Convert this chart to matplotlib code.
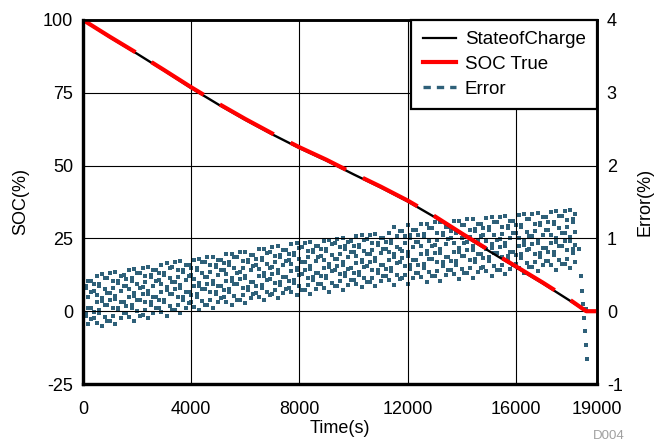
"""
SOC推定とその誤差の比較
"""

import numpy as np
import matplotlib
matplotlib.use("Agg")
import matplotlib.pyplot as plt
from matplotlib.lines import Line2D

plt.rcParams['font.family'] = ['Liberation Sans', 'DejaVu Sans']
plt.rcParams['axes.unicode_minus'] = False

####################################
# データ
####################################
soc_time = [0, 1000, 2000, 3000, 4000, 5000, 6000, 7000, 8000, 9000, 10000,
            11000, 12000, 13000, 14000, 15000, 16000, 17000, 18000, 18600]
soc_est = [100, 94.0, 88.4, 82.6, 76.6, 71.0, 65.7, 60.7, 56.0, 51.7, 47.0,
           42.5, 37.7, 32.3, 26.4, 20.7, 15.1, 9.5, 3.6, 0]
soc_true_time = soc_time + [19000]
soc_true = [100, 94.2, 88.6, 82.8, 76.9, 71.3, 66.0, 61.0, 56.3, 52.0, 47.3,
            42.8, 38.0, 32.6, 26.7, 21.0, 15.4, 9.8, 3.9, 0, 0]

# 誤差: 200秒ごとの列 (t = 0, 200, ...), 各列に4点
err_step = 200
err_cols = [
    [-0.25, 0.09, 0.13, 0.46], [-0.18, 0.04, 0.20, 0.41], [-0.10, -0.01, 0.28, 0.37],
    [-0.03, 0.01, 0.35, 0.38], [-0.08, 0.08, 0.30, 0.45], [-0.13, 0.15, 0.25, 0.52],
    [-0.18, 0.17, 0.21, 0.54], [-0.10, 0.12, 0.28, 0.49], [-0.03, 0.07, 0.35, 0.44],
    [0.04, 0.08, 0.42, 0.45], [0.00, 0.16, 0.38, 0.53], [-0.05, 0.23, 0.33, 0.60],
    [-0.10, 0.24, 0.28, 0.61], [-0.03, 0.19, 0.35, 0.56], [0.05, 0.15, 0.43, 0.52],
    [0.12, 0.16, 0.50, 0.53], [0.07, 0.23, 0.45, 0.60], [0.02, 0.30, 0.40, 0.67],
    [-0.03, 0.32, 0.36, 0.69], [0.05, 0.27, 0.43, 0.64], [0.12, 0.22, 0.50, 0.59],
    [0.19, 0.23, 0.57, 0.60], [0.14, 0.30, 0.52, 0.67], [0.09, 0.37, 0.47, 0.74],
    [0.04, 0.38, 0.42, 0.75], [0.12, 0.34, 0.50, 0.71], [0.19, 0.29, 0.57, 0.66],
    [0.26, 0.30, 0.64, 0.67], [0.21, 0.37, 0.59, 0.74], [0.16, 0.44, 0.54, 0.81],
    [0.11, 0.45, 0.49, 0.82], [0.18, 0.40, 0.56, 0.77], [0.25, 0.35, 0.63, 0.72],
    [0.32, 0.36, 0.70, 0.73], [0.27, 0.43, 0.65, 0.80], [0.23, 0.51, 0.61, 0.88],
    [0.18, 0.52, 0.56, 0.89], [0.25, 0.47, 0.63, 0.84], [0.32, 0.42, 0.70, 0.79],
    [0.39, 0.43, 0.77, 0.80], [0.34, 0.50, 0.72, 0.87], [0.29, 0.57, 0.67, 0.94],
    [0.24, 0.58, 0.62, 0.95], [0.31, 0.53, 0.69, 0.90], [0.38, 0.48, 0.76, 0.85],
    [0.45, 0.49, 0.83, 0.86], [0.39, 0.55, 0.77, 0.92], [0.34, 0.62, 0.72, 0.99],
    [0.29, 0.63, 0.67, 1.00], [0.36, 0.58, 0.74, 0.95], [0.43, 0.53, 0.81, 0.90],
    [0.50, 0.54, 0.88, 0.91], [0.45, 0.61, 0.83, 0.98], [0.40, 0.68, 0.78, 1.05],
    [0.35, 0.69, 0.73, 1.06], [0.42, 0.64, 0.80, 1.01], [0.48, 0.58, 0.86, 0.95],
    [0.55, 0.59, 0.93, 0.96], [0.50, 0.66, 0.88, 1.03], [0.45, 0.73, 0.83, 1.10],
    [0.38, 0.76, 0.81, 1.18], [0.46, 0.70, 0.88, 1.12], [0.52, 0.64, 0.95, 1.05],
    [0.60, 0.65, 1.03, 1.06], [0.54, 0.72, 0.97, 1.14], [0.49, 0.80, 0.91, 1.22],
    [0.42, 0.80, 0.85, 1.22], [0.50, 0.74, 0.92, 1.16], [0.57, 0.69, 1.00, 1.10],
    [0.64, 0.69, 1.07, 1.10], [0.58, 0.76, 1.01, 1.18], [0.53, 0.84, 0.95, 1.26],
    [0.46, 0.84, 0.89, 1.26], [0.54, 0.78, 0.96, 1.20], [0.61, 0.73, 1.04, 1.14],
    [0.69, 0.74, 1.12, 1.15], [0.62, 0.80, 1.05, 1.22], [0.57, 0.88, 0.99, 1.30],
    [0.51, 0.89, 0.94, 1.31], [0.58, 0.82, 1.00, 1.24], [0.65, 0.77, 1.08, 1.18],
    [0.73, 0.78, 1.16, 1.19], [0.66, 0.84, 1.09, 1.26], [0.61, 0.92, 1.03, 1.34],
    [0.55, 0.93, 0.98, 1.35], [0.63, 0.87, 1.05, 1.29], [0.69, 0.81, 1.12, 1.22],
    [0.77, 0.82, 1.20, 1.23], [0.71, 0.89, 1.14, 1.31], [0.65, 0.96, 1.07, 1.38],
    [0.59, 0.97, 1.02, 1.39], [0.67, 0.91, 1.09, 1.33],
]
# 間の列 (t = 100, 300, ...)
err_cols_mid = [
    [-0.06, -0.02, 0.32, 0.35], [-0.11, 0.05, 0.27, 0.42], [-0.16, 0.12, 0.22, 0.49],
    [-0.21, 0.14, 0.18, 0.51], [-0.13, 0.09, 0.25, 0.46], [-0.06, 0.04, 0.32, 0.41],
    [0.01, 0.05, 0.39, 0.42], [-0.03, 0.13, 0.35, 0.50], [-0.08, 0.20, 0.30, 0.57],
    [-0.13, 0.21, 0.25, 0.58], [-0.06, 0.16, 0.32, 0.53], [0.02, 0.12, 0.40, 0.49],
    [0.09, 0.13, 0.47, 0.50], [0.04, 0.20, 0.42, 0.57], [-0.01, 0.27, 0.37, 0.64],
    [-0.06, 0.29, 0.33, 0.66], [0.02, 0.24, 0.40, 0.61], [0.09, 0.19, 0.47, 0.56],
    [0.16, 0.20, 0.54, 0.57], [0.11, 0.27, 0.49, 0.64], [0.06, 0.34, 0.44, 0.71],
    [0.01, 0.35, 0.39, 0.72], [0.09, 0.31, 0.47, 0.68], [0.16, 0.26, 0.54, 0.63],
    [0.23, 0.27, 0.61, 0.64], [0.18, 0.34, 0.56, 0.71], [0.13, 0.41, 0.51, 0.78],
    [0.08, 0.42, 0.46, 0.79], [0.15, 0.37, 0.53, 0.74], [0.22, 0.32, 0.60, 0.69],
    [0.29, 0.33, 0.67, 0.70], [0.24, 0.40, 0.62, 0.77], [0.20, 0.48, 0.58, 0.85],
    [0.15, 0.49, 0.53, 0.86], [0.22, 0.44, 0.60, 0.81], [0.29, 0.39, 0.67, 0.76],
    [0.36, 0.40, 0.74, 0.77], [0.31, 0.47, 0.69, 0.84], [0.27, 0.55, 0.65, 0.92],
    [0.22, 0.56, 0.60, 0.93], [0.29, 0.51, 0.67, 0.88], [0.36, 0.46, 0.74, 0.83],
    [0.43, 0.47, 0.81, 0.84], [0.37, 0.53, 0.75, 0.90], [0.32, 0.60, 0.70, 0.97],
    [0.27, 0.61, 0.65, 0.98], [0.34, 0.56, 0.72, 0.93], [0.41, 0.51, 0.79, 0.88],
    [0.48, 0.52, 0.86, 0.89], [0.43, 0.59, 0.81, 0.96], [0.38, 0.66, 0.76, 1.03],
    [0.33, 0.67, 0.71, 1.04], [0.40, 0.62, 0.78, 0.99], [0.46, 0.56, 0.84, 0.93],
    [0.53, 0.57, 0.91, 0.94], [0.48, 0.64, 0.86, 1.01], [0.43, 0.71, 0.81, 1.08],
    [0.36, 0.74, 0.79, 1.16], [0.44, 0.68, 0.86, 1.10], [0.50, 0.62, 0.93, 1.03],
    [0.58, 0.63, 1.01, 1.04], [0.52, 0.70, 0.95, 1.12], [0.47, 0.78, 0.89, 1.20],
    [0.40, 0.78, 0.83, 1.20], [0.48, 0.72, 0.90, 1.14], [0.55, 0.67, 0.98, 1.08],
    [0.62, 0.67, 1.05, 1.08], [0.56, 0.74, 0.99, 1.16], [0.51, 0.82, 0.93, 1.24],
    [0.44, 0.82, 0.87, 1.24], [0.52, 0.76, 0.94, 1.18], [0.59, 0.71, 1.02, 1.12],
    [0.67, 0.72, 1.10, 1.13], [0.60, 0.78, 1.03, 1.20], [0.55, 0.86, 0.97, 1.28],
    [0.49, 0.87, 0.92, 1.29], [0.56, 0.80, 0.98, 1.22], [0.63, 0.75, 1.06, 1.16],
    [0.71, 0.76, 1.14, 1.17], [0.64, 0.82, 1.07, 1.24], [0.59, 0.90, 1.01, 1.32],
    [0.53, 0.91, 0.96, 1.33], [0.61, 0.85, 1.03, 1.27], [0.67, 0.79, 1.10, 1.20],
    [0.75, 0.80, 1.18, 1.21], [0.69, 0.87, 1.12, 1.29], [0.63, 0.94, 1.05, 1.36],
    [0.57, 0.95, 1.00, 1.37], [0.65, 0.89, 1.07, 1.31], [0.72, 0.84, 1.15, 1.25],
    [0.80, 0.85, 1.23, 1.26],
]
# 最後の急降下部分
err_tail_time = [18350, 18400, 18450, 18480, 18520, 18560, 18600, 18620, 18600]
err_tail = [0.85, 0.49, 0.28, 0.10, -0.09, -0.27, -0.47, -0.66, 0.03]

err_t = []
err_v = []
for i, col in enumerate(err_cols):
    for v in col:
        err_t.append(i * err_step)
        err_v.append(v)
for i, col in enumerate(err_cols_mid):
    for v in col:
        err_t.append(i * err_step + err_step // 2)
        err_v.append(v)
err_t += err_tail_time
err_v += err_tail

x_ticks = [0, 4000, 8000, 12000, 16000, 19000]
soc_ticks = [-25, 0, 25, 50, 75, 100]
err_ticks = [-1, 0, 1, 2, 3, 4]

err_color = '#2e6079'

####################################
# 描画
####################################
fig = plt.figure(figsize=(6.55, 4.44), dpi=100)
ax = fig.add_axes([0.1267, 0.1351, 0.7848, 0.8199])
ax2 = ax.twinx()

ax2.plot(err_t, err_v, ls='none', marker='s', ms=2.9, mew=0, color=err_color)
ax.plot(soc_time, soc_est, color='black', lw=1.7)
ax.plot(soc_true_time, soc_true, color='red', lw=3.0, dashes=(14.8, 4.5))

# SOC軸を手前に
ax.set_zorder(ax2.get_zorder() + 1)
ax.patch.set_visible(False)

ax.set_xlim(0, 19000)
ax.set_ylim(-25, 100)
ax2.set_ylim(-1, 4)
ax.set_xticks(x_ticks)
ax.set_yticks(soc_ticks)
ax2.set_yticks(err_ticks)
ax.grid(True, color='black', lw=0.8)

ax.tick_params(axis='x', length=0, labelsize=13, pad=12)
ax.tick_params(axis='y', length=0, labelsize=13, pad=7)
ax2.tick_params(axis='y', length=0, labelsize=13, pad=7)
for a in (ax, ax2):
    a.spines['left'].set_linewidth(2.3)
    a.spines['bottom'].set_linewidth(2.3)
    a.spines['top'].set_linewidth(1.8)
    a.spines['right'].set_linewidth(1.8)

ax.set_xlabel('Time(s)', fontsize=13, labelpad=2)
ax.set_ylabel('SOC(%)', fontsize=13, va='center')
ax.yaxis.set_label_coords(-0.122, 0.5)
ax2.set_ylabel('Error(%)', fontsize=13, va='center')
ax2.yaxis.set_label_coords(1.094, 0.5)

handles = [
    Line2D([], [], color='black', lw=1.6),
    Line2D([], [], color='red', lw=3.0),
    Line2D([], [], color=err_color, lw=2.4, ls=(0, (2.2, 1.8))),
]
leg = ax.legend(handles, ['StateofCharge', 'SOC True', 'Error'], loc='upper right',
                fontsize=13.5, fancybox=False, framealpha=1, borderaxespad=0,
                handlelength=1.75, handletextpad=0.5, labelspacing=0.4, borderpad=0.6)
leg.get_frame().set_edgecolor('black')
leg.get_frame().set_linewidth(1.6)

fig.text(0.954, 0.004, 'D004', fontsize=9.5, color='#a0a0a0', ha='right', va='bottom')

fig.savefig('out.png', dpi=100)
